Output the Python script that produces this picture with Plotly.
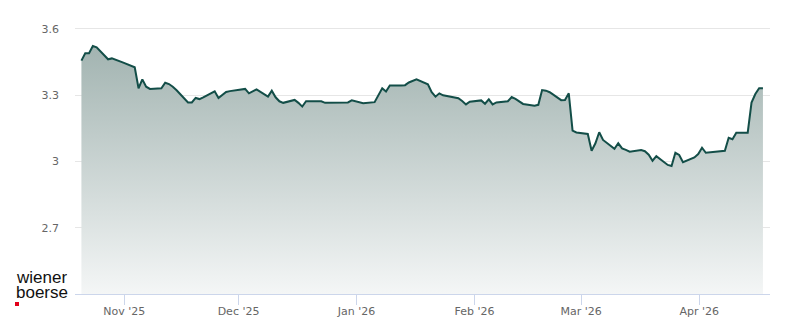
import pandas as pd
import plotly.graph_objects as go

# ---- data -------------------------------------------------------------
start_date = "2025-10-20"
end_date = "2026-04-17"
exchange_holidays = ["2025-12-24", "2025-12-25", "2025-12-26", "2025-12-31",
                     "2026-01-01", "2026-04-03", "2026-04-06"]

prices = [
    3.456, 3.489, 3.489, 3.522, 3.516,   # Oct 20-24
    3.462, 3.466, 3.460, 3.451, 3.447,   # Oct 27-31
    3.426, 3.331, 3.371, 3.338, 3.328,   # Nov 3-7
    3.331, 3.356, 3.350, 3.338, 3.322,   # Nov 10-14
    3.267, 3.267, 3.287, 3.282, 3.290,   # Nov 17-21
    3.317, 3.287, 3.300, 3.314, 3.318,   # Nov 24-28
    3.328, 3.328, 3.308, 3.318, 3.326,   # Dec 1-5
    3.293, 3.320, 3.290, 3.272, 3.265,   # Dec 8-12
    3.278, 3.265, 3.248, 3.272, 3.272,   # Dec 15-19
    3.272, 3.265,                        # Dec 22-23
    3.267, 3.276,                        # Dec 29-30
    3.263,                               # Jan 2
    3.268, 3.297, 3.331, 3.316, 3.344,   # Jan 5-9
    3.344, 3.345, 3.357, 3.365, 3.371,   # Jan 12-16
    3.349, 3.313, 3.293, 3.308, 3.299,   # Jan 19-23
    3.291, 3.286, 3.273, 3.258, 3.270,   # Jan 26-30
    3.276, 3.261, 3.281, 3.258, 3.267,   # Feb 2-6
    3.272, 3.291, 3.283, 3.270, 3.260,   # Feb 9-13
    3.252, 3.256, 3.323, 3.320, 3.313,   # Feb 16-20
    3.277, 3.278, 3.308, 3.139, 3.131,   # Feb 23-27
    3.124, 3.048, 3.082, 3.132, 3.097,   # Mar 2-6
    3.057, 3.082, 3.059, 3.052, 3.044,   # Mar 9-13
    3.051, 3.046, 3.030, 3.003, 3.024,   # Mar 16-20
    2.984, 2.979, 3.039, 3.029, 2.996,   # Mar 23-27
    3.018, 3.033, 3.062, 3.039,          # Mar 30-Apr 2
    3.048, 3.107, 3.100, 3.130,          # Apr 7-10
    3.130, 3.266, 3.305, 3.331, 3.331,   # Apr 13-17
]

y_tick_values = [2.7, 3.0, 3.3, 3.6]
y_tick_labels = ["2.7", "3", "3.3", "3.6"]
x_tick_values = ["2025-11-01", "2025-12-01", "2026-01-01",
                 "2026-02-01", "2026-03-01", "2026-04-01"]
x_tick_labels = ["Nov '25", "Dec '25", "Jan '26", "Feb '26", "Mar '26", "Apr '26"]

dates = pd.bdate_range(start_date, end_date, freq="C", holidays=exchange_holidays)
dates = dates + pd.Timedelta(hours=17, minutes=30)
assert len(dates) == len(prices), (len(dates), len(prices))

# ---- figure -----------------------------------------------------------
LINE = "#134e48"
W, H = 800, 324
ML, MR, MT, MB = 75, 30, 10, 30
PW, PH = W - ML - MR, H - MT - MB

fig = go.Figure()
fig.add_trace(go.Scatter(
    x=dates, y=prices, mode="lines",
    line=dict(color=LINE, width=2),
    fill="tozeroy",
    fillgradient=dict(type="vertical", start=2.4, stop=3.55,
                      colorscale=[[0, "rgb(244,246,246)"], [1, "rgb(160,178,175)"]]),
    hoverinfo="skip", showlegend=False,
))

def px_x(px):
    return (px - ML) / PW

def px_y(py):
    return (H - MB - py) / PH

fig.update_layout(
    width=W, height=H,
    margin=dict(l=ML, r=MR, t=MT, b=MB, autoexpand=False),
    paper_bgcolor="white", plot_bgcolor="white",
    font=dict(family="DejaVu Sans", size=11, color="#666666"),
    showlegend=False,
    xaxis=dict(
        range=["2025-10-19 01:00", "2026-04-19 14:00"],
        tickvals=x_tick_values, ticktext=x_tick_labels,
        showgrid=False, zeroline=False, automargin=False,
        showline=True, linecolor="#ccd6eb", linewidth=1,
        ticks="outside", ticklen=10, tickcolor="#ccd6eb", tickwidth=1,
        ticklabelstandoff=-3,
        tickfont=dict(family="DejaVu Sans", size=11, color="#666666"),
    ),
    yaxis=dict(
        range=[2.4, 2.4 + PH / 221.0],
        tickvals=y_tick_values, ticktext=y_tick_labels,
        showgrid=True, gridcolor="#e6e6e6", gridwidth=1,
        zeroline=False, showline=False, ticks="", automargin=False,
        ticklabelstandoff=15,
        tickfont=dict(family="DejaVu Sans", size=11, color="#666666"),
    ),
    annotations=[
        dict(text="wiener", xref="paper", yref="paper", x=px_x(14), y=px_y(277),
             xanchor="left", yanchor="middle", showarrow=False, height=15,
             font=dict(family="Liberation Sans", size=17, color="#111111")),
        dict(text="boerse", xref="paper", yref="paper", x=px_x(14), y=px_y(292),
             xanchor="left", yanchor="middle", showarrow=False, height=15,
             font=dict(family="Liberation Sans", size=17, color="#111111")),
    ],
    shapes=[
        dict(type="rect", xref="paper", yref="paper",
             x0=px_x(15), x1=px_x(19), y0=px_y(306), y1=px_y(302),
             fillcolor="#e2001a", line=dict(width=0)),
    ],
)

fig.write_html("out.html")
